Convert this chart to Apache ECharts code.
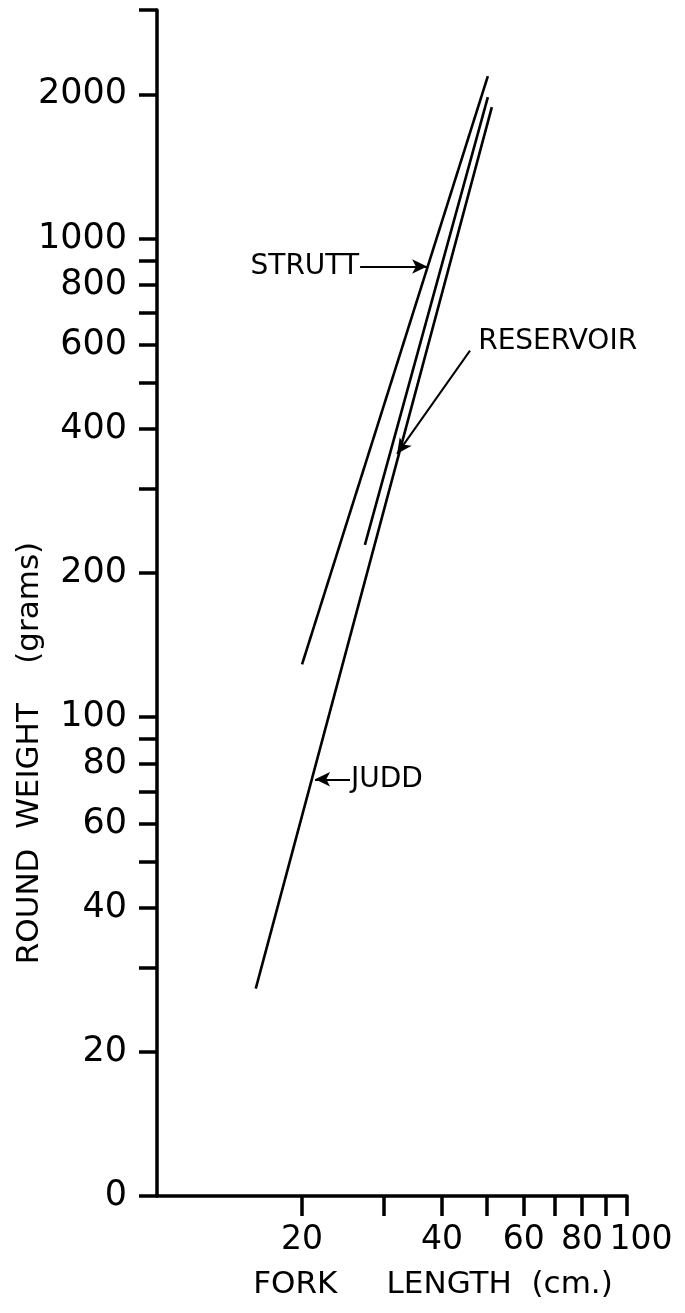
<!DOCTYPE html>
<html><head><meta charset="utf-8">
<script src="https://cdn.jsdelivr.net/npm/echarts@6/dist/echarts.min.js"></script>
<style>html,body{margin:0;padding:0;background:#fff}#c{width:685px;height:1313px}</style>
</head><body><div id="c"></div>
<script>
// ---- data (fork length cm, round weight g) ----
const struttData = [[20.0, 129], [50.2, 2183]];
const reservoirData = [[27.3, 229], [50.2, 1973]];
const juddData = [[15.9, 27.1], [51.2, 1880]];

const xTickValues = [20, 30, 40, 50, 60, 70, 80, 90, 100];
const xLabelValues = [20, 40, 60, 80, 100];
const yTickValues = [10, 20, 30, 40, 50, 60, 70, 80, 90, 100, 200, 300, 400, 500, 600, 700, 800, 900, 1000, 2000, 3000];
const yLabelValues = [10, 20, 40, 60, 80, 100, 200, 400, 600, 800, 1000, 2000];
const yLabelText = {10: '0'};

// annotation anchors (data coordinates): [tail, tip]
const struttArrow = [[26.66, 873.7], [37.15, 873.7]];
const reservoirArrow = [[45.95, 583], [32.02, 354.9]];
const reservoirTextAt = [47.6, 609];
const juddArrow = [[25.36, 74.2], [21.33, 74.2]];

const FONT = 'DejaVu Sans';
const chart = echarts.init(document.getElementById('c'), null, {renderer: 'canvas'});

function arrowLine(pts) {
  return {
    silent: true, symbol: ['none', 'arrow'], symbolSize: [11, 15],
    label: {show: false},
    lineStyle: {color: '#000', width: 2, type: 'solid'},
    emphasis: {disabled: true},
    data: [[{coord: pts[0]}, {coord: pts[1]}]]
  };
}
function textPoint(coord, text, pos) {
  return {
    silent: true, symbol: 'circle', symbolSize: 0.1,
    itemStyle: {color: 'transparent'},
    label: {show: true, position: pos, distance: 1, formatter: text,
      color: '#000', fontFamily: FONT, fontSize: 28},
    data: [{coord: coord}]
  };
}
const lineStyleBase = {color: '#000', width: 2.6};

chart.setOption({
  animation: false,
  backgroundColor: '#fff',
  grid: {left: 157, right: 58, top: 10, bottom: 117, outerBoundsMode: 'none'},
  xAxis: {
    type: 'log', logBase: 10, min: 9.75, max: 100,
    axisLine: {show: true, lineStyle: {color: '#000', width: 3.5}},
    axisTick: {show: true, inside: false, length: 20, customValues: xTickValues,
      lineStyle: {color: '#000', width: 3.5}},
    axisLabel: {customValues: xLabelValues, margin: 28, color: '#000', fontFamily: FONT, fontSize: 33,
      formatter: v => v === 100 ? '{s|100}' : String(v),
      rich: {s: {fontFamily: FONT, fontSize: 33, color: '#000', padding: [0, 0, 0, 28]}}},
    splitLine: {show: false}, minorTick: {show: false}
  },
  yAxis: {
    type: 'log', logBase: 10, min: 10, max: 3000,
    axisLine: {show: true, lineStyle: {color: '#000', width: 3.5}},
    axisTick: {show: true, inside: false, length: 18, customValues: yTickValues,
      lineStyle: {color: '#000', width: 3.5}},
    axisLabel: {customValues: yLabelValues, margin: 30, color: '#000', fontFamily: FONT, fontSize: 35,
      formatter: v => yLabelText[v] !== undefined ? yLabelText[v] : String(v)},
    splitLine: {show: false}, minorTick: {show: false}
  },
  series: [
    {name: 'STRUTT', type: 'line', data: struttData, showSymbol: false, symbol: 'none',
      lineStyle: lineStyleBase, itemStyle: {color: '#000'},
      markLine: arrowLine(struttArrow), markPoint: textPoint(struttArrow[0], 'STRUTT', 'left')},
    {name: 'RESERVOIR', type: 'line', data: reservoirData, showSymbol: false, symbol: 'none',
      lineStyle: lineStyleBase, itemStyle: {color: '#000'},
      markLine: arrowLine(reservoirArrow), markPoint: textPoint(reservoirTextAt, 'RESERVOIR', 'right')},
    {name: 'JUDD', type: 'line', data: juddData, showSymbol: false, symbol: 'none',
      lineStyle: lineStyleBase, itemStyle: {color: '#000'},
      markLine: arrowLine(juddArrow), markPoint: textPoint(juddArrow[0], 'JUDD', 'right')}
  ],
  graphic: [
    {type: 'text', x: 30, y: 753, rotation: Math.PI / 2,
      style: {text: 'ROUND  WEIGHT    (grams)', fontFamily: FONT, fontSize: 31, fill: '#000',
        textAlign: 'center', textVerticalAlign: 'middle'}},
    {type: 'text', x: 433, y: 1285,
      style: {text: 'FORK     LENGTH  (cm.)', fontFamily: FONT, fontSize: 31, fill: '#000',
        textAlign: 'center', textVerticalAlign: 'middle'}}
  ]
});
</script></body></html>
